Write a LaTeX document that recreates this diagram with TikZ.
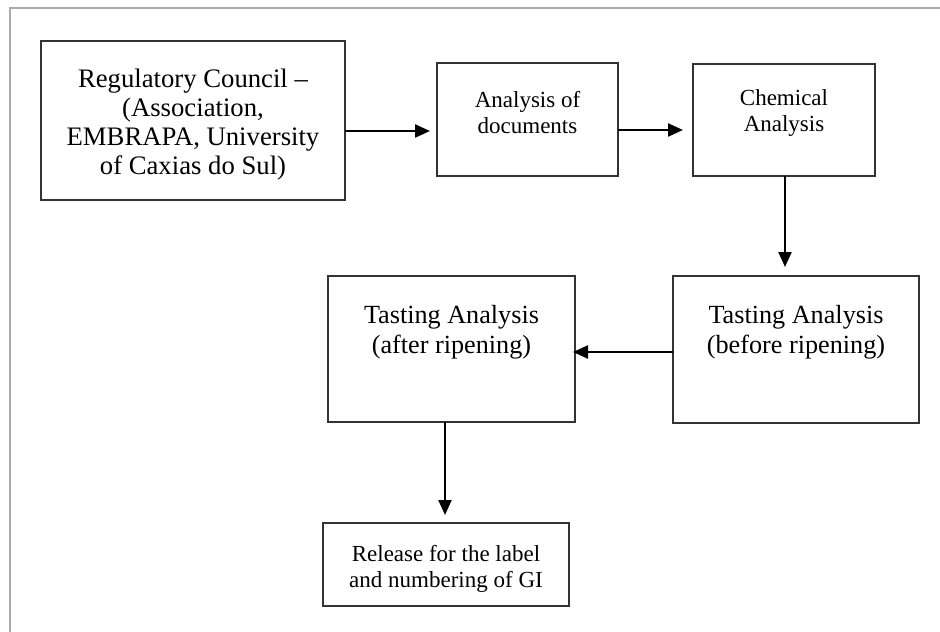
\documentclass[tikz,border=0pt]{standalone}
\usepackage{fontspec}
\setmainfont{Liberation Serif}
\usetikzlibrary{arrows.meta}
\begin{document}
\begin{tikzpicture}[x=1pt,y=-1pt,
  boxstyle/.style={draw=black!80, line width=2.4pt, inner sep=0pt, outer sep=0pt},
  bigtext/.style={align=center, font=\fontsize{26.7}{29.2}\selectfont},
  midtext/.style={align=center, font=\fontsize{26.2}{30}\selectfont},
  smalltext/.style={align=center, font=\fontsize{23}{26}\selectfont},
  arr/.style={-{Triangle[length=15pt,width=13pt]}, line width=2.3pt, black}]
\useasboundingbox (0,0) rectangle (940,632);
% frame
\draw[black!33, line width=2pt] (940,8) -- (9.5,8) -- (9.5,632);
% boxes
\node[boxstyle, minimum width=304pt, minimum height=159pt] (b1) at (193,120.5) {};
\node[boxstyle, minimum width=181pt, minimum height=113pt] (b2) at (527.5,119.5) {};
\node[boxstyle, minimum width=182pt, minimum height=112pt] (b3) at (784,120) {};
\node[boxstyle, minimum width=246pt, minimum height=147pt] (b4) at (796,349.5) {};
\node[boxstyle, minimum width=247pt, minimum height=146pt] (b5) at (451.5,349) {};
\node[boxstyle, minimum width=246pt, minimum height=83pt] (b6) at (446,564.5) {};
% texts
\node[bigtext] (t1) at (193,124.5) {Regulatory Council --\\(Association,\\EMBRAPA, University\\of Caxias do Sul)};
\node[smalltext] (t2) at (527.5,113) {Analysis of\\documents};
\node[smalltext] (t3) at (784,113) {Chemical\\Analysis};
\node[midtext] (t4) at (796,332) {Tasting Analysis\\(before ripening)};
\node[midtext] (t5) at (451.5,332) {Tasting Analysis\\(after ripening)};
\node[smalltext] (t6) at (446,569) {Release for the label\\and numbering of GI};
% arrows
\draw[arr, shorten >=7pt] ([yshift=-10.5pt]b1.east) -- ([yshift=-11.5pt]b2.west);
\draw[arr, shorten >=10pt] ([yshift=-10.5pt]b2.east) -- ([yshift=-10pt]b3.west);
\draw[arr, shorten >=9pt] ([xshift=1pt]b3.south) -- ([xshift=1pt]b3.south |- b4.north);
\draw[arr, shorten >=-2pt] ([yshift=-2.5pt]b4.west) -- ([yshift=-3pt]b5.east);
\draw[arr, shorten >=8pt] ([xshift=-6.5pt]b5.south) -- ([xshift=-6.5pt]b5.south |- b6.north);
\end{tikzpicture}
\end{document}
